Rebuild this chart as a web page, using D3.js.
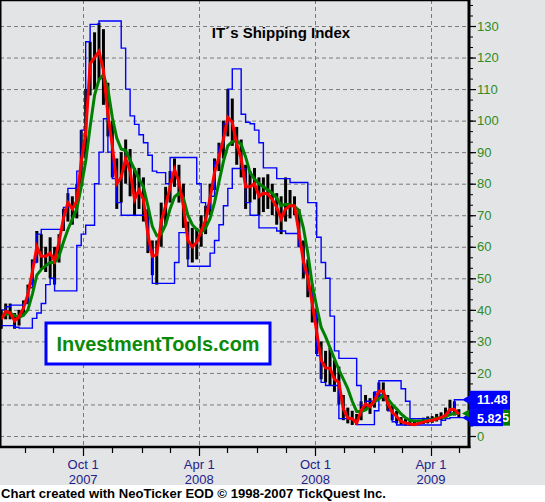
<!DOCTYPE html>
<html>
<head>
<meta charset="utf-8">
<script src="https://cdn.jsdelivr.net/npm/d3@7"></script>
<style>
    body { margin: 0; background: #fff; }
    svg { display: block; font-family: Arial, "Liberation Sans", sans-serif; }
</style>
</head>
<body>
<svg id="chart" width="545" height="502"></svg>
<script>
"use strict";

// weekly samples, Fridays from 25 May 2007 to 15 May 2009
const weekStart = new Date(2007, 4, 25);
const weekStop = new Date(2009, 4, 16);

const highs = [40, 42, 42, 39, 40, 43, 48, 56, 65, 64, 60, 63, 60, 64, 72, 77, 76, 80, 97, 110,
    125, 128, 131, 129, 112, 100, 88, 90, 94, 91, 85, 85, 82, 72, 62, 62, 74, 79, 84, 88,
    86, 80, 68, 66, 66, 70, 73, 80, 88, 93, 100, 110, 107, 98, 94, 86, 84, 85, 82, 82,
    83, 80, 77, 76, 82, 78, 76, 72, 62, 56, 48, 40, 30, 27, 28, 24, 22, 13, 9, 8,
    7, 11, 13, 12, 14, 17, 17, 13, 10, 8, 6, 5.5, 5, 4.8, 5.2, 5.8, 6.2, 6.3, 7, 7.5,
    9, 11.5, 11, 8.5];
const lows = [34, 37, 37, 34, 35, 38, 42, 48, 55, 53, 52, 50, 48, 55, 65, 68, 67, 69, 80, 88,
    108, 110, 113, 105, 95, 82, 72, 74, 80, 76, 70, 72, 68, 58, 51, 48, 60, 67, 74, 79,
    74, 66, 56, 55, 56, 60, 64, 70, 78, 84, 88, 95, 92, 86, 82, 72, 74, 75, 70, 71,
    72, 70, 67, 64, 68, 69, 70, 60, 50, 44, 36, 26, 18, 17, 16, 14, 10, 5, 4, 3.5,
    3.5, 5, 8, 7, 9, 12, 11, 8, 5, 4, 3.5, 3.3, 3.2, 3.2, 3.5, 3.8, 4, 4.2, 4.6, 5,
    5.5, 6.5, 6.5, 5.8];
// short moving average (red)
const fastAvg = [37, 39.5, 39, 36.5, 37.8, 40.5, 45, 52, 60, 57, 57, 58, 55.5, 61.5, 69, 74, 72, 74.5, 87, 96,
    118, 120, 122, 116, 102, 92, 80, 82, 88, 84, 75, 78, 75, 64, 57, 57.5, 68, 73, 79, 84.5,
    80.5, 73, 62, 60, 61.4, 65, 68.5, 75.5, 83.5, 88.5, 94, 101, 99.5, 92.5, 88, 79, 79, 80, 76, 77,
    76.8, 75, 72.5, 68.8, 72, 73, 73, 64.5, 55.5, 50.2, 42, 33, 24, 21.6, 21.5, 18, 17, 8.6, 5.7, 5.5,
    4.1, 8, 10.2, 9.3, 11.3, 14.2, 14.2, 10.3, 7.5, 6.2, 4.6, 4.1, 3.8, 3.6, 4, 4.4, 4.8, 5, 5.4, 5.9,
    6.5, 8.4, 8.5, 6.8];
// long moving average (green)
const slowAvg = [37.5, 38.5, 39, 38.2, 37.6, 38.3, 40, 45, 51, 52.8, 54, 55, 55, 57, 61.5, 65.5, 68.8, 72, 79, 87,
    98, 108, 113, 114.5, 110, 101, 94.5, 91, 90.5, 87.5, 84.5, 81.5, 79, 73, 66.5, 63.5, 64, 67, 72, 75.8,
    77, 75.5, 70, 67, 65.5, 64.5, 66, 69, 74, 80.5, 87, 92, 93.3, 93.6, 92.5, 88.5, 83.5, 81.5, 80, 79,
    78, 77, 75.5, 73, 73.5, 73.3, 72.8, 71.5, 66, 58, 48, 41, 34.5, 31.5, 28, 24.5, 21, 18, 15, 11,
    7.8, 7.8, 8.3, 9.5, 10.8, 11.8, 12.8, 11.8, 10, 8.6, 7, 5.8, 5, 4.8, 4.7, 4.8, 5, 5.2, 5.6, 5.8,
    6, 6.8, 7.2, 7.15];
// price channel (blue)
const upperBand = [40, 41, 41.5, 41.5, 41.5, 42, 47, 55, 64, 65.5, 65.5, 65.5, 65.5, 65.5, 72.5, 78.5, 78.5, 84, 97, 125,
    130.5, 130.5, 131.6, 131.6, 131.6, 131.6, 131.6, 123, 110, 101.5, 98.8, 95.5, 93, 89, 84, 83.5, 83.5, 80, 88.3, 88.3,
    88.3, 88.3, 88.3, 88.3, 80, 74, 72, 76, 87, 92, 99, 110, 116.4, 116.4, 102, 99.5, 99, 97, 93, 85,
    85, 85, 81.6, 81.6, 81.6, 80.4, 80.4, 80.4, 80.4, 74, 74, 63, 55, 50, 38, 27, 24.6, 24.6, 24.6, 24.6,
    16, 9.5, 11, 11, 14, 17.5, 17.5, 17.5, 17.5, 17.5, 15, 11, 5.5, 5.5, 5.5, 5.5, 5.5, 5.5, 5.5, 6,
    7, 8.5, 11.48, 11.48];
const lowerBand = [35, 35, 35, 34.5, 34.2, 34.2, 34.2, 37.3, 39, 42, 48, 50, 46, 46, 46, 46, 46, 60.4, 64, 66.8,
    66.8, 80, 90, 100.6, 90, 81.6, 74, 70, 70, 70, 70, 70, 70, 59, 48.4, 48.4, 48.4, 48.4, 48.4, 55,
    64.5, 64.5, 53.8, 53.8, 53.8, 53.8, 53.8, 58, 62, 67, 73, 78.5, 84.8, 84.8, 84.8, 74, 70, 70, 66, 66,
    66, 66, 65, 65, 64.2, 64.2, 64.2, 60, 52, 46, 40, 25.5, 17, 16, 16, 16, 5.5, 5.5, 5.5, 5,
    3.6, 3.6, 3.6, 3.6, 8, 13, 12, 8, 4.5, 3.5, 3.5, 3.5, 3.5, 3.5, 3.5, 3.5, 3.5, 3.5, 3.5, 5,
    5.5, 5.82, 5.82, 5.82];

const yTicks = [0, 10, 20, 30, 40, 50, 60, 70, 80, 90, 100, 110, 120, 130];
const majorTicks = ["2007-10-01", "2008-04-01", "2008-10-01", "2009-04-01"];
const monthLabels = ["Oct 1", "Apr 1", "Oct 1", "Apr 1"];
const yearLabels = ["2007", "2008", "2008", "2009"];
const minorTicks = ["2007-07-01", "2007-08-15", "2007-11-15", "2008-01-01", "2008-02-15", "2008-05-15",
    "2008-07-01", "2008-08-15", "2008-11-15", "2009-01-01", "2009-02-15", "2009-05-15"];

const chartTitle = "IT\u00b4s Shipping Index";
const watermark = "InvestmentTools.com";
const footer = "Chart created with NeoTicker EOD \u00a9 1998-2007 TickQuest Inc.";

function main() {
    const svg = d3.select("#chart");
    const width = +svg.attr("width");
    const height = +svg.attr("height");
    const plot = {left: 0, top: 0, right: 469, bottom: 447};
    const parseDay = d3.timeParse("%Y-%m-%d");

    const dates = d3.timeFriday.range(weekStart, weekStop);
    const n = Math.min(dates.length, highs.length);
    const rows = [];
    for (var i = 0; i < n; ++i) {
        rows.push({
            date: dates[i], high: highs[i], low: lows[i],
            fast: fastAvg[i], slow: slowAvg[i], upper: upperBand[i], lower: lowerBand[i]
        });
    }
    const last = rows[n - 1];

    const xScale = d3.scaleTime()
        .domain([new Date(2007, 4, 23), new Date(2009, 4, 31)])
        .range([plot.left, plot.right]);
    const yScale = d3.scaleLinear()
        .domain([0, 130])
        .range([436, 26]);

    // backgrounds
    svg.append("rect").attr("width", width).attr("height", height).attr("fill", "#e3e4e6");
    svg.append("rect").attr("x", 0).attr("y", 485).attr("width", width).attr("height", height - 485)
        .attr("fill", "#ffffff");

    // grid
    const grid = svg.append("g").attr("stroke", "#7a7a7a").attr("stroke-dasharray", "4,3");
    grid.selectAll("line.h").data(yTicks).enter().append("line")
        .attr("x1", plot.left).attr("x2", plot.right)
        .attr("y1", function (d) { return yScale(d) + 0.5; })
        .attr("y2", function (d) { return yScale(d) + 0.5; });
    grid.selectAll("line.v").data(majorTicks).enter().append("line")
        .attr("x1", function (d) { return Math.round(xScale(parseDay(d))) + 0.5; })
        .attr("x2", function (d) { return Math.round(xScale(parseDay(d))) + 0.5; })
        .attr("y1", plot.top).attr("y2", plot.bottom);

    // title
    svg.append("text")
        .attr("x", 281).attr("y", 38)
        .attr("text-anchor", "middle")
        .attr("font-size", "15px").attr("font-weight", "bold")
        .attr("fill", "#000")
        .text(chartTitle);

    // watermark
    svg.append("rect")
        .attr("x", 46).attr("y", 323).attr("width", 224).attr("height", 41)
        .attr("fill", "#fff").attr("stroke", "#0000ff").attr("stroke-width", 3);
    svg.append("text")
        .attr("x", 158).attr("y", 351)
        .attr("text-anchor", "middle")
        .attr("font-size", "21px").attr("font-weight", "bold")
        .attr("fill", "#0a8a0a")
        .attr("textLength", 203).attr("lengthAdjust", "spacingAndGlyphs")
        .text(watermark);

    // price bars
    svg.append("g").selectAll("line").data(rows).enter().append("line")
        .attr("x1", function (d) { return xScale(d.date); })
        .attr("x2", function (d) { return xScale(d.date); })
        .attr("y1", function (d) { return yScale(d.high); })
        .attr("y2", function (d) { return yScale(d.low); })
        .attr("stroke", "#000").attr("stroke-width", 3);

    const stepLine = function (key) {
        return d3.line()
            .curve(d3.curveStepAfter)
            .x(function (d) { return xScale(d.date); })
            .y(function (d) { return yScale(d[key]); });
    };
    const smoothLine = function (key) {
        return d3.line()
            .x(function (d) { return xScale(d.date); })
            .y(function (d) { return yScale(d[key]); });
    };
    const lastX = xScale(last.date);
    const bandRows = rows.concat([Object.assign({}, last, {date: xScale.invert(lastX + 4)})]);

    svg.append("path").datum(bandRows).attr("d", stepLine("upper"))
        .attr("fill", "none").attr("stroke", "#0000ff").attr("stroke-width", 1.4);
    svg.append("path").datum(bandRows).attr("d", stepLine("lower"))
        .attr("fill", "none").attr("stroke", "#0000ff").attr("stroke-width", 1.4);
    svg.append("path").datum(rows).attr("d", smoothLine("slow"))
        .attr("fill", "none").attr("stroke", "#008000").attr("stroke-width", 3);
    svg.append("path").datum(rows).attr("d", smoothLine("fast"))
        .attr("fill", "none").attr("stroke", "#ff0000").attr("stroke-width", 3);

    // frame
    svg.append("line").attr("x1", 0).attr("x2", plot.right).attr("y1", 0.5).attr("y2", 0.5)
        .attr("stroke", "#000").attr("stroke-width", 1.5);
    svg.append("line").attr("x1", 0.75).attr("x2", 0.75).attr("y1", 0).attr("y2", plot.bottom)
        .attr("stroke", "#000").attr("stroke-width", 1.5);

    // right axis; the label under the last-value boxes is hidden, as in the original
    const boxTop = yScale(last.upper) - 9;
    const boxBottom = yScale(last.lower) + 8.5;
    const yAxis = d3.axisRight(yScale).tickValues(yTicks).tickSize(7).tickPadding(1)
        .tickFormat(function (d) {
            const yy = yScale(d);
            return (yy > boxTop && yy < boxBottom) ? "" : d3.format("d")(d);
        });
    const yMinor = d3.axisRight(yScale).tickValues(d3.range(0, 138, 10 / 3)).tickSize(4)
        .tickFormat("");
    const yAxisG = svg.append("g").attr("transform", "translate(" + plot.right + ",0)").call(yAxis);
    svg.append("g").attr("transform", "translate(" + plot.right + ",0)").call(yMinor)
        .select(".domain").remove();
    yAxisG.select(".domain").remove();
    yAxisG.selectAll(".tick line").attr("stroke", "#000").attr("stroke-width", 1.2);
    yAxisG.selectAll(".tick text")
        .attr("font-family", "Arial, 'Liberation Sans', sans-serif")
        .attr("font-size", "13px").attr("fill", "#2f8c1f");
    svg.append("line").attr("x1", plot.right).attr("x2", plot.right).attr("y1", 0).attr("y2", plot.bottom + 1)
        .attr("stroke", "#000").attr("stroke-width", 3);

    // bottom axis
    const xAxisG = svg.append("g").attr("stroke", "#000").attr("stroke-width", 1.2);
    xAxisG.selectAll("line.minor").data(minorTicks).enter().append("line")
        .attr("x1", function (d) { return Math.round(xScale(parseDay(d))) + 0.5; })
        .attr("x2", function (d) { return Math.round(xScale(parseDay(d))) + 0.5; })
        .attr("y1", plot.bottom).attr("y2", plot.bottom + 6);
    xAxisG.selectAll("line.major").data(majorTicks).enter().append("line")
        .attr("x1", function (d) { return Math.round(xScale(parseDay(d))) + 0.5; })
        .attr("x2", function (d) { return Math.round(xScale(parseDay(d))) + 0.5; })
        .attr("y1", plot.bottom).attr("y2", plot.bottom + 9);
    svg.append("line").attr("x1", 0).attr("x2", plot.right + 1.5).attr("y1", plot.bottom).attr("y2", plot.bottom)
        .attr("stroke", "#000").attr("stroke-width", 2.5);

    const xLabels = svg.append("g").attr("font-size", "13px").attr("fill", "#22228a")
        .attr("text-anchor", "middle");
    majorTicks.forEach(function (d, k) {
        const t = xLabels.append("text").attr("x", xScale(parseDay(d)));
        t.append("tspan").attr("x", xScale(parseDay(d))).attr("y", 469).text(monthLabels[k]);
        t.append("tspan").attr("x", xScale(parseDay(d))).attr("y", 484).text(yearLabels[k]);
    });

    // last value markers
    const fmt = d3.format(".2f");
    const marker = function (value, color) {
        const yy = yScale(value);
        svg.append("path")
            .attr("d", "M" + (plot.right - 7) + "," + yy + "L" + plot.right + "," + (yy - 4) +
                "L" + plot.right + "," + (yy + 4) + "Z")
            .attr("fill", color);
    };
    marker(last.upper, "#0000ff");
    marker(last.lower, "#0000ff");
    marker(last.slow, "#008000");

    const yUp = yScale(last.upper);
    const yLow = yScale(last.lower);
    svg.append("rect").attr("x", plot.right).attr("y", yLow - 8).attr("width", 41).attr("height", 16)
        .attr("fill", "#008000");
    svg.append("text").attr("x", 509).attr("y", yLow + 4.5).attr("text-anchor", "end")
        .attr("font-size", "12.5px").attr("font-weight", "bold").attr("fill", "#fff")
        .text(fmt(last.slow));
    svg.append("rect").attr("x", plot.right).attr("y", yUp - 9).attr("width", 41).attr("height", 19)
        .attr("fill", "#0000ff");
    svg.append("rect").attr("x", plot.right).attr("y", yUp + 9.5).attr("width", 34).attr("height", boxBottom - (yUp + 9.5))
        .attr("fill", "#0000ff");
    svg.append("text").attr("x", 477).attr("y", yUp + 4.2)
        .attr("font-size", "12.5px").attr("font-weight", "bold").attr("fill", "#fff")
        .text(fmt(last.upper));
    svg.append("text").attr("x", 477).attr("y", yLow + 5)
        .attr("font-size", "12.5px").attr("font-weight", "bold").attr("fill", "#fff")
        .text(fmt(last.lower));

    // footer
    svg.append("text")
        .attr("x", 1).attr("y", 497.5)
        .attr("font-size", "13px").attr("font-weight", "bold").attr("fill", "#000")
        .attr("textLength", 385).attr("lengthAdjust", "spacingAndGlyphs")
        .text(footer);
}

main();
</script>
</body>
</html>
